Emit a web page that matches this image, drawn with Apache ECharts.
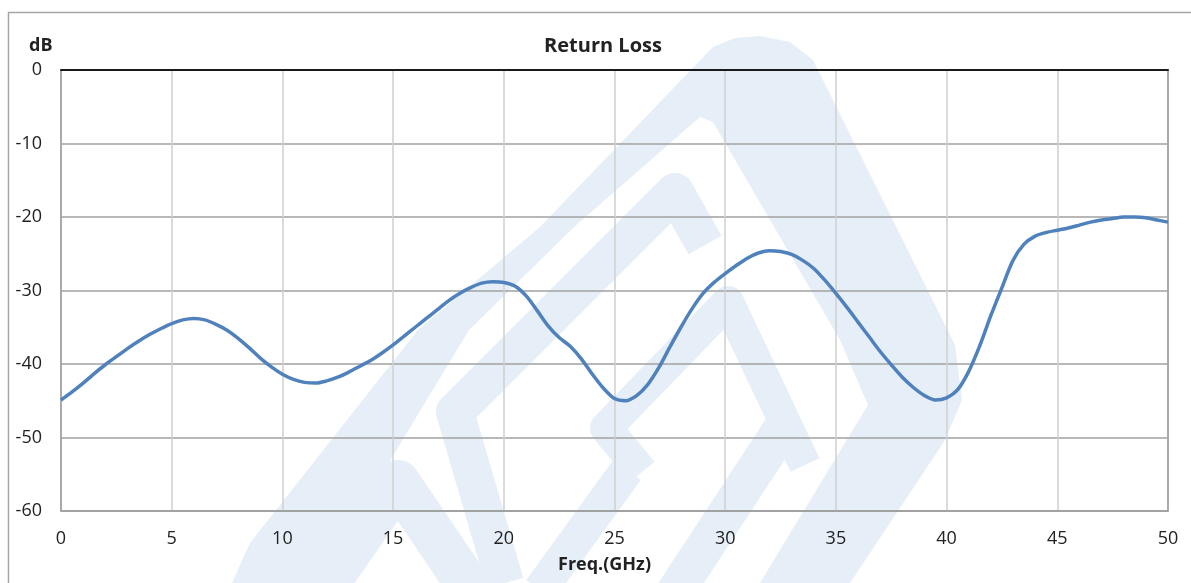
<!DOCTYPE html>
<html>
<head>
<meta charset="utf-8">
<script src="https://cdn.jsdelivr.net/npm/echarts@6/dist/echarts.min.js"></script>
<style>
html,body{margin:0;padding:0;background:#fff;}
#chart{width:1191px;height:583px;}
</style>
</head>
<body>
<div id="chart"></div>
<script>
// Frequency (GHz) and Return Loss (dB), every 0.5 GHz
const freq = [0, 0.5, 1, 1.5, 2, 2.5, 3, 3.5, 4, 4.5, 5, 5.5, 6, 6.5, 7, 7.5, 8, 8.5, 9, 9.5,
  10, 10.5, 11, 11.5, 12, 12.5, 13, 13.5, 14, 14.5, 15, 15.5, 16, 16.5, 17, 17.5, 18, 18.5, 19, 19.5,
  20, 20.5, 21, 21.5, 22, 22.5, 23, 23.5, 24, 24.5, 25, 25.5, 26, 26.5, 27, 27.5, 28, 28.5, 29, 29.5,
  30, 30.5, 31, 31.5, 32, 32.5, 33, 33.5, 34, 34.5, 35, 35.5, 36, 36.5, 37, 37.5, 38, 38.5, 39, 39.5,
  40, 40.5, 41, 41.5, 42, 42.5, 43, 43.5, 44, 44.5, 45, 45.5, 46, 46.5, 47, 47.5, 48, 48.5, 49, 49.5, 50];
const rl = [-44.9, -43.8, -42.6, -41.3, -40.1, -39.0, -37.9, -36.9, -36.0, -35.2, -34.5, -34.0, -33.8, -34.0, -34.6, -35.4, -36.5, -37.8, -39.2, -40.4,
  -41.4, -42.1, -42.5, -42.6, -42.3, -41.8, -41.1, -40.3, -39.5, -38.5, -37.4, -36.2, -35.0, -33.8, -32.6, -31.4, -30.4, -29.6, -29.0, -28.8,
  -28.9, -29.4, -30.7, -32.7, -34.8, -36.4, -37.6, -39.3, -41.4, -43.3, -44.7, -45.0, -44.3, -42.8, -40.5, -37.7, -35.0, -32.5, -30.4, -28.9,
  -27.7, -26.6, -25.6, -24.9, -24.6, -24.7, -25.1, -25.9, -27.0, -28.6, -30.4, -32.3, -34.3, -36.3, -38.3, -40.1, -41.8, -43.2, -44.3, -44.9,
  -44.6, -43.5, -41.0, -37.5, -33.4, -29.6, -25.9, -23.7, -22.6, -22.1, -21.8, -21.5, -21.1, -20.7, -20.4, -20.2, -20.0, -20.0, -20.1, -20.4, -20.7];
const xTicks = [0, 5, 10, 15, 20, 25, 30, 35, 40, 45, 50];
const yTicks = [0, -10, -20, -30, -40, -50, -60];

const wm = '#e6eef7';
const FONT = '"Open Sans", Lato, sans-serif';
function band(points, w, cap) {
  return { type: 'polyline', z: -10, silent: true, shape: { points: points },
    style: { stroke: wm, lineWidth: w, fill: null, lineJoin: 'round', lineCap: cap || 'round' } };
}
const chart = echarts.init(document.getElementById('chart'));
chart.setOption({
  animation: false,
  backgroundColor: '#fff',
  textStyle: { fontFamily: FONT },
  title: {
    text: 'Return Loss', left: 598, top: 31, textAlign: 'center',
    textStyle: { fontSize: 20, fontWeight: 'bold', color: '#222', fontFamily: FONT }
  },
  graphic: [
    { type: 'polygon', z: -10, silent: true,
      shape: { points: [[232, 583], [250, 543], [418, 330], [540, 227], [713, 47], [735, 38], [760, 36], [790, 42], [813, 60],
        [955, 345], [962, 400], [945, 440], [850, 583], [760, 583], [868, 405], [840, 340], [713, 122], [700, 117],
        [574, 227], [469, 330], [316, 583]] },
      style: { fill: wm } },
    band([[505, 583], [455, 412], [675, 192], [705, 245]], 38, 'butt'),
    band([[642, 472], [606, 428], [728, 302], [805, 465]], 32, 'butt'),
    band([[627, 470], [540, 590]], 34, 'butt'),
    band([[316, 600], [398, 482], [478, 600]], 44),
    band([[788, 420], [670, 600]], 38, 'butt'),
    { type: 'rect', z: -5, silent: true,
      shape: { x: 8.5, y: 12.5, width: 1200, height: 600 },
      style: { stroke: '#a6a6a6', lineWidth: 1.5, fill: null } },
    { type: 'text', left: 29, top: 37, silent: true,
      style: { text: 'dB', font: 'bold 18px ' + FONT, fill: '#222' } }
  ],
  grid: { left: 61, right: 23, top: 70, bottom: 72, containLabel: false },
  xAxis: [{
    type: 'value', min: 0, max: 50, interval: 5,
    name: 'Freq.(GHz)', nameLocation: 'middle', nameGap: 45,
    nameTextStyle: { fontSize: 18, fontWeight: 'bold', color: '#222', fontFamily: FONT, padding: [0, 20, 0, 0] },
    axisLine: { show: true, onZero: false, lineStyle: { color: '#9a9a9a', width: 1.5 } },
    axisTick: { show: false },
    axisLabel: { fontSize: 18, color: '#222', margin: 19, formatter: v => xTicks.includes(v) ? String(v) : '' },
    splitLine: { show: true, lineStyle: { color: '#cfcfcf', width: 1.5 } }
  }, {
    type: 'value', position: 'top', min: 0, max: 50,
    axisLine: { show: true, onZero: false, lineStyle: { color: '#1a1a1a', width: 2 } },
    axisTick: { show: false }, axisLabel: { show: false }, splitLine: { show: false }
  }],
  yAxis: [{
    type: 'value', min: -60, max: 0, interval: 10,
    axisLine: { show: true, onZero: false, lineStyle: { color: '#9a9a9a', width: 1.5 } },
    axisTick: { show: false },
    axisLabel: { fontSize: 18, color: '#222', margin: 19, formatter: v => yTicks.includes(v) ? String(v) : '' },
    splitLine: { show: true, lineStyle: { color: '#a0a0a0', width: 1.5 } }
  }, {
    type: 'value', position: 'right', min: -60, max: 0,
    axisLine: { show: true, onZero: false, lineStyle: { color: '#9a9a9a', width: 1.5 } },
    axisTick: { show: false }, axisLabel: { show: false }, splitLine: { show: false }
  }],
  series: [{
    type: 'line',
    data: freq.map((f, i) => [f, rl[i]]),
    smooth: 0.3,
    showSymbol: false,
    lineStyle: { color: '#4f81bd', width: 3.5 },
    z: 5
  }]
});
</script>
</body>
</html>
